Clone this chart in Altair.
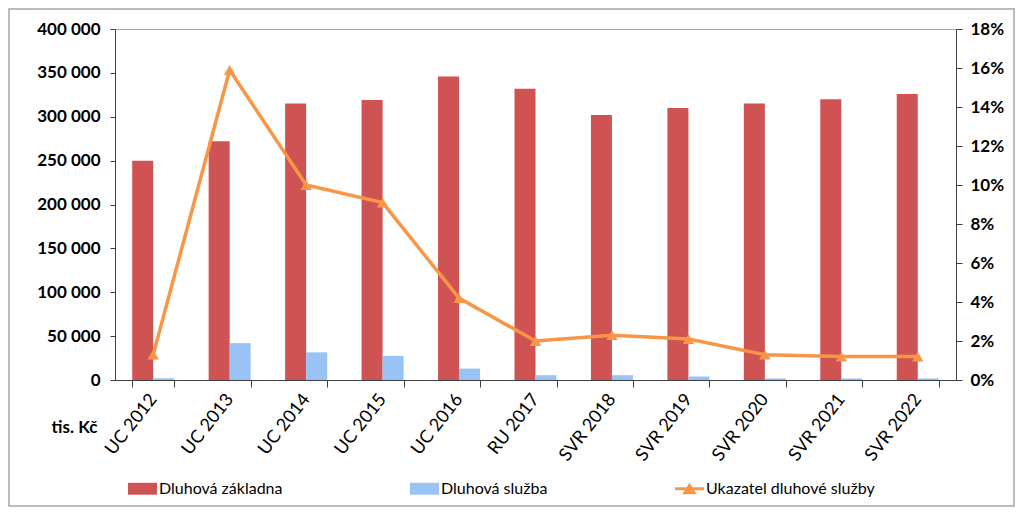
import altair as alt
import pandas as pd

categories = ["UC 2012", "UC 2013", "UC 2014", "UC 2015", "UC 2016", "RU 2017",
              "SVR 2018", "SVR 2019", "SVR 2020", "SVR 2021", "SVR 2022"]
dluhova_zakladna = [250000, 272000, 315000, 319000, 346000, 332000, 302000, 310000, 315000, 320000, 326000]
dluhova_sluzba = [2000, 42000, 31500, 27500, 13000, 5500, 5500, 4000, 1800, 1800, 1800]
ukazatel = [0.013, 0.159, 0.100, 0.091, 0.042, 0.020, 0.023, 0.021, 0.013, 0.012, 0.012]

series = ["Dluhová základna", "Dluhová služba", "Ukazatel dluhové služby"]
colors = ["#D05353", "#99C3F4", "#F79646"]
pct_ticks = [0, 0.02, 0.04, 0.06, 0.08, 0.10, 0.12, 0.14, 0.16, 0.18]
value_ticks = [0, 50000, 100000, 150000, 200000, 250000, 300000, 350000, 400000]

FONT = "Lato"

bars_df = pd.DataFrame({
    "cat": categories * 2,
    "series": [series[0]] * len(categories) + [series[1]] * len(categories),
    "value": dluhova_zakladna + dluhova_sluzba,
})
line_df = pd.DataFrame({"cat": categories, "pct": ukazatel})
legend_df = pd.DataFrame({"series": series})

rect_path = "M-1,-0.41H1V0.41H-1Z"
line_tri_path = "M-1,-0.1H1V0.1H-1Z M0,-0.42L0.5,0.38L-0.5,0.38Z"

legend = alt.Legend(
    orient="none", legendX=13, legendY=445, direction="horizontal", columns=3,
    columnPadding=127, title=None, symbolSize=841, symbolStrokeWidth=0,
    symbolOpacity=1, labelFont=FONT, labelFontSize=16, labelColor="#000000",
    labelOffset=2, padding=0, labelLimit=400,
)
color_enc = alt.Color("series:N", scale=alt.Scale(domain=series, range=colors), legend=legend)

x_enc = alt.X(
    "cat:N", sort=categories,
    scale=alt.Scale(paddingInner=0.45, paddingOuter=0.225),
    axis=alt.Axis(
        title="tis. Kč", titleFont=FONT, titleFontSize=17, titleFontWeight="bold",
        titleColor="#000000", titleX=-41, titleY=47, titleAlign="center",
        titleBaseline="middle", titleAngle=0,
        labelAngle=-52, labelAlign="right", labelBaseline="middle",
        labelFont=FONT, labelFontSize=18, labelColor="#000000", labelPadding=9,
        labelOverlap=False,
        tickBand="extent", tickSize=7, tickColor="#404040", domainColor="#404040",
        grid=False,
    ),
)

bars = alt.Chart(bars_df).mark_bar().encode(
    x=x_enc,
    xOffset=alt.XOffset("series:N", sort=series[:2], scale=alt.Scale(paddingInner=0, paddingOuter=0)),
    y=alt.Y("value:Q", scale=alt.Scale(domain=[0, 400000]),
            axis=alt.Axis(orient="left", title=None, values=value_ticks,
                          labelExpr="replace(format(datum.value, ','), ',', ' ')",
                          labelFont=FONT, labelFontSize=17, labelFontWeight="bold",
                          labelColor="#000000", labelPadding=10, tickSize=5,
                          labelOverlap=False,
                          tickColor="#404040", domainColor="#404040", grid=False)),
    color=color_enc,
)

right_axis = alt.Axis(orient="right", title=None, format=".0%", values=pct_ticks,
                      labelFont=FONT, labelFontSize=17, labelFontWeight="bold",
                      labelColor="#000000", labelPadding=8, tickSize=6,
                      labelOverlap=False, tickCount=10,
                      tickColor="#404040", domainColor="#404040", grid=False)
y_right = alt.Y("pct:Q", scale=alt.Scale(domain=[0, 0.18]), axis=right_axis)

line = alt.Chart(line_df).mark_line(color="#F79646", strokeWidth=3.5).encode(
    x=alt.X("cat:N", sort=categories), y=y_right)
points = alt.Chart(line_df).mark_point(shape="triangle-up", filled=True, size=130,
                                       color="#F79646", opacity=1).encode(
    x=alt.X("cat:N", sort=categories), y=y_right)
line_layer = alt.layer(line, points)

legend_layer = alt.Chart(legend_df).transform_filter("false").mark_point(filled=True, opacity=1).encode(
    color=color_enc,
    shape=alt.Shape("series:N", scale=alt.Scale(domain=series, range=[rect_path, rect_path, line_tri_path]),
                    legend=legend),
)

frame = alt.Chart(pd.DataFrame({"a": [0]})).mark_rect(fill=None, stroke="#A6A6A6", strokeWidth=1.5).encode(
    x=alt.value(-106), x2=alt.value(899), y=alt.value(-20), y2=alt.value(477))

chart = alt.layer(bars, line_layer, legend_layer, frame).resolve_scale(y="independent").properties(
    width=841, height=351,
    autosize=alt.AutoSizeParams(type="none"),
    padding={"left": 107, "top": 21, "right": 59, "bottom": 128},
).configure_view(stroke="#A6A6A6")

chart.save("out.html", embed_options={"renderer": "svg", "actions": False})
